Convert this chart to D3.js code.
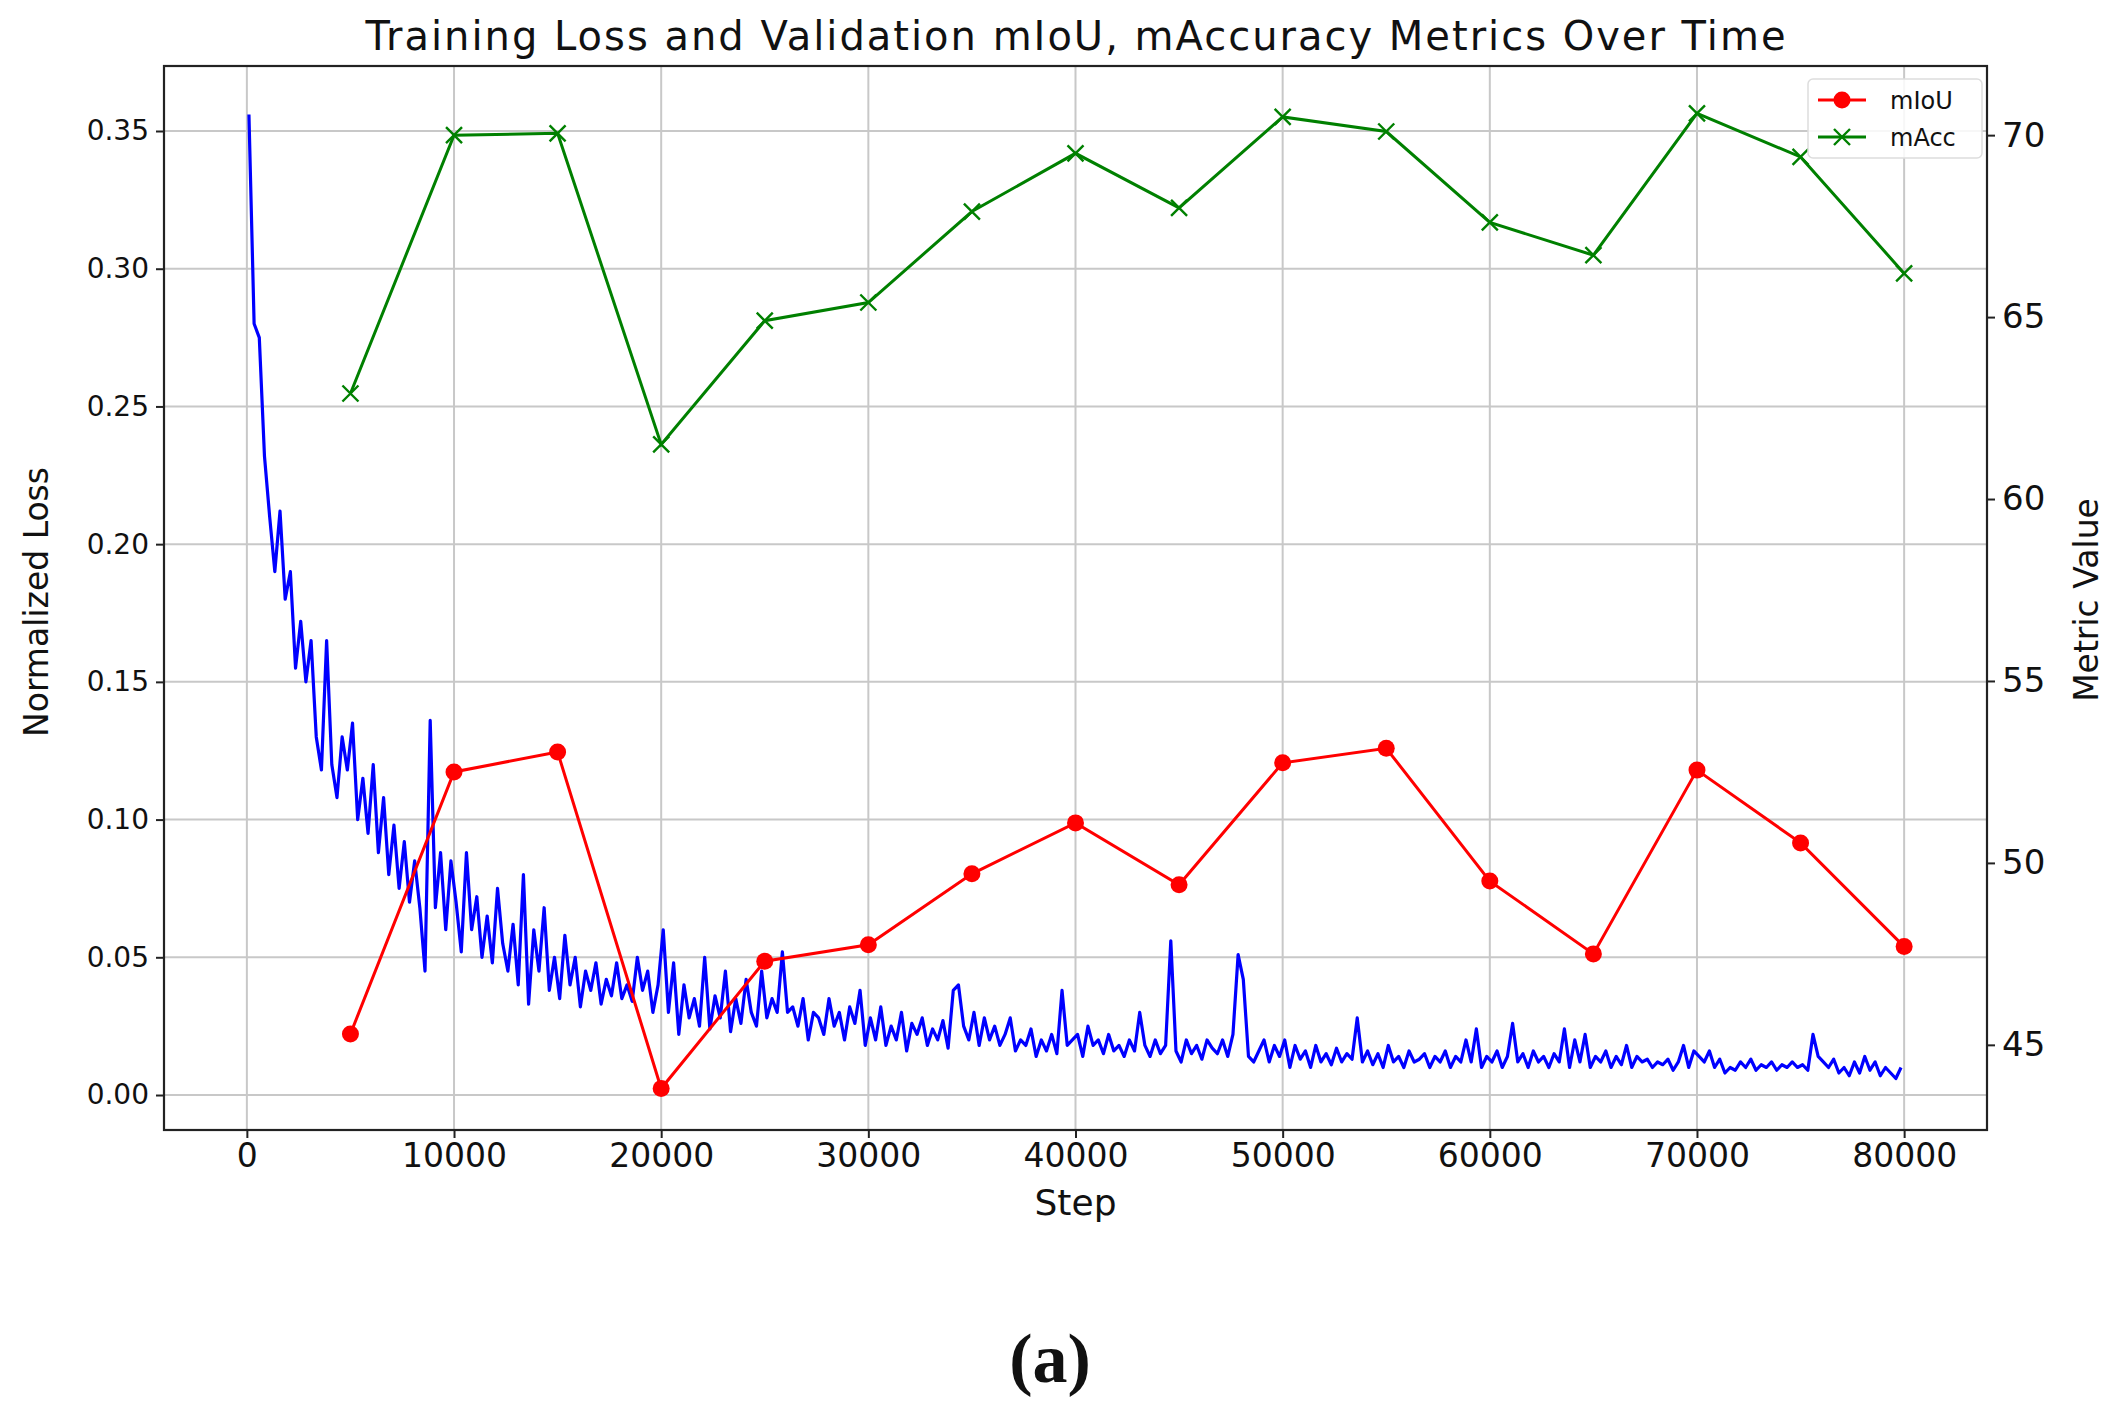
<!DOCTYPE html>
<html><head><meta charset="utf-8">
<script src="https://cdn.jsdelivr.net/npm/d3@7"></script>
<style>body{margin:0;background:#fff}</style>
</head><body><svg id="c" width="2122" height="1405" font-family="DejaVu Sans"></svg>
<script>
const evalSteps=[5000,10000,15000,20000,25000,30000,35000,40000,45000,50000,55000,60000,65000,70000,75000,80000];
const mIoU=[45.3,52.5,53.05,43.8,47.3,47.75,49.7,51.1,49.4,52.75,53.15,49.5,47.5,52.55,50.55,47.7];
const mAcc=[62.9,70.0,70.05,61.5,64.9,65.4,67.9,69.5,68.0,70.5,70.1,67.6,66.7,70.6,69.4,66.2];
const lossStart=100, lossInterval=250;
const loss=[
0.356,0.28,0.275,0.232,0.21,0.19,0.212,0.18,0.19,0.155,0.172,0.15,0.165,0.13,0.118,0.165,0.12,0.108,0.13,0.118,0.135,0.10,0.115,0.095,0.12,0.088,0.108,0.08,0.098,0.075,0.092,0.07,0.085,0.068,0.045,0.136,0.068,0.088,0.06,0.085,
0.07,0.052,0.088,0.06,0.072,0.05,0.065,0.048,0.075,0.055,0.045,0.062,0.04,0.08,0.033,0.06,0.045,0.068,0.038,0.05,0.035,0.058,0.04,0.05,0.032,0.045,0.038,0.048,0.033,0.042,0.036,0.048,0.035,0.04,0.034,0.05,0.038,0.045,0.03,0.04,
0.06,0.03,0.048,0.022,0.04,0.028,0.035,0.025,0.05,0.024,0.036,0.028,0.045,0.023,0.035,0.026,0.042,0.03,0.025,0.045,0.028,0.035,0.03,0.052,0.03,0.032,0.025,0.035,0.02,0.03,0.028,0.022,0.035,0.025,0.03,0.02,0.032,0.026,0.038,0.018,
0.028,0.02,0.032,0.018,0.025,0.02,0.03,0.016,0.026,0.022,0.028,0.018,0.024,0.02,0.027,0.017,0.038,0.04,0.025,0.02,0.03,0.018,0.028,0.02,0.025,0.018,0.022,0.028,0.016,0.02,0.018,0.024,0.014,0.02,0.016,0.022,0.015,0.038,0.018,0.02,
0.022,0.014,0.025,0.018,0.02,0.015,0.022,0.016,0.018,0.014,0.02,0.016,0.03,0.018,0.014,0.02,0.015,0.018,0.056,0.016,0.012,0.02,0.015,0.018,0.013,0.02,0.017,0.015,0.02,0.014,0.022,0.051,0.042,0.014,0.012,0.016,0.02,0.012,0.018,0.014,
0.02,0.01,0.018,0.013,0.016,0.01,0.018,0.012,0.015,0.011,0.017,0.012,0.015,0.013,0.028,0.012,0.016,0.011,0.015,0.01,0.018,0.012,0.014,0.01,0.016,0.012,0.013,0.015,0.01,0.014,0.012,0.016,0.01,0.014,0.012,0.02,0.012,0.024,0.01,0.014,
0.012,0.016,0.01,0.014,0.026,0.012,0.015,0.01,0.016,0.012,0.014,0.01,0.015,0.012,0.024,0.01,0.02,0.012,0.022,0.01,0.014,0.012,0.016,0.01,0.014,0.011,0.018,0.01,0.014,0.012,0.013,0.01,0.012,0.011,0.013,0.009,0.012,0.018,0.01,0.016,
0.014,0.012,0.016,0.01,0.013,0.008,0.01,0.009,0.012,0.01,0.013,0.009,0.011,0.01,0.012,0.009,0.011,0.01,0.012,0.01,0.011,0.009,0.022,0.014,0.012,0.01,0.013,0.008,0.01,0.007,0.012,0.008,0.014,0.009,0.012,0.007,0.01,0.008,0.006,0.01];
const xTicks=[0,10000,20000,30000,40000,50000,60000,70000,80000];
const yLeftTicks=[0,0.05,0.10,0.15,0.20,0.25,0.30,0.35];
const yRightTicks=[45,50,55,60,65,70];

const L=164,R=1987,T=66,B=1130;
const svg=d3.select("#c");
const x=d3.scaleLinear().domain([-4000,84000]).range([L,R]);
const yL=d3.scaleLinear().domain([-0.0127,0.3736]).range([B,T]);
const yR=d3.scaleLinear().domain([42.66,71.9]).range([B,T]);
const grid="#c8c8c8";
svg.append("g").selectAll("line").data(xTicks).join("line").attr("x1",d=>x(d)).attr("x2",d=>x(d)).attr("y1",T).attr("y2",B).attr("stroke",grid).attr("stroke-width",2);
svg.append("g").selectAll("line").data(yLeftTicks).join("line").attr("y1",d=>yL(d)).attr("y2",d=>yL(d)).attr("x1",L).attr("x2",R).attr("stroke",grid).attr("stroke-width",2);

const lossData=loss.map((v,i)=>[lossStart+i*lossInterval,v]);
svg.append("path").datum(lossData).attr("fill","none").attr("stroke","#0000ff").attr("stroke-width",3.2).attr("stroke-linejoin","round")
 .attr("d",d3.line().x(d=>x(d[0])).y(d=>yL(d[1])));
const mi=evalSteps.map((s,i)=>[s,mIoU[i]]), ma=evalSteps.map((s,i)=>[s,mAcc[i]]);
const lr=d3.line().x(d=>x(d[0])).y(d=>yR(d[1]));
svg.append("path").datum(mi).attr("fill","none").attr("stroke","#ff0000").attr("stroke-width",3).attr("d",lr);
svg.append("g").selectAll("circle").data(mi).join("circle").attr("cx",d=>x(d[0])).attr("cy",d=>yR(d[1])).attr("r",8.5).attr("fill","#ff0000");
svg.append("path").datum(ma).attr("fill","none").attr("stroke","#008000").attr("stroke-width",3).attr("d",lr);
const xm=(g,cx,cy)=>g.append("path").attr("d",`M${cx-8},${cy-8}L${cx+8},${cy+8}M${cx-8},${cy+8}L${cx+8},${cy-8}`).attr("stroke","#008000").attr("stroke-width",2.4);
const gm=svg.append("g"); ma.forEach(d=>xm(gm,x(d[0]),yR(d[1])));

svg.append("rect").attr("x",L).attr("y",T).attr("width",R-L).attr("height",B-T).attr("fill","none").attr("stroke","#222").attr("stroke-width",2.2);
const ax=svg.append("g").attr("transform",`translate(0,${B})`).call(d3.axisBottom(x).tickValues(xTicks).tickFormat(d3.format("d")).tickSize(8).tickPadding(6));
const ayl=svg.append("g").attr("transform",`translate(${L},0)`).call(d3.axisLeft(yL).tickValues(yLeftTicks).tickFormat(d3.format(".2f")).tickSize(8).tickPadding(7));
const ayr=svg.append("g").attr("transform",`translate(${R},0)`).call(d3.axisRight(yR).tickValues(yRightTicks).tickSize(8).tickPadding(7));
[ax,ayl,ayr].forEach(a=>{a.select(".domain").remove();a.selectAll("line").attr("stroke","#222").attr("stroke-width",2);a.selectAll("text").attr("fill","#111").attr("font-family","DejaVu Sans");});
ayl.selectAll("text").attr("font-size",28);
ax.selectAll("text").attr("font-size",33);
ayr.selectAll("text").attr("font-size",34);

svg.append("text").attr("x",(L+R)/2).attr("y",50).attr("text-anchor","middle").attr("font-size",40).attr("fill","#111").attr("textLength",1420).text("Training Loss and Validation mIoU, mAccuracy Metrics Over Time");
svg.append("text").attr("x",(L+R)/2).attr("y",1215).attr("text-anchor","middle").attr("font-size",36).attr("fill","#111").text("Step");
svg.append("text").attr("transform",`translate(48,${602}) rotate(-90)`).attr("text-anchor","middle").attr("font-size",33).attr("fill","#111").text("Normalized Loss");
svg.append("text").attr("transform",`translate(2098,600) rotate(-90)`).attr("text-anchor","middle").attr("font-size",33).attr("fill","#111").text("Metric Value");
svg.append("text").attr("x",1050).attr("y",1382).attr("text-anchor","middle").attr("font-size",70).attr("font-family","Liberation Serif").attr("font-weight","bold").attr("fill","#111").text("(a)");

const lg=svg.append("g");
lg.append("rect").attr("x",1808).attr("y",79).attr("width",174).attr("height",79).attr("rx",5).attr("fill","#fff").attr("fill-opacity",0.85).attr("stroke","#ddd").attr("stroke-width",1.5);
lg.append("line").attr("x1",1818).attr("x2",1866).attr("y1",100).attr("y2",100).attr("stroke","#ff0000").attr("stroke-width",3);
lg.append("circle").attr("cx",1842).attr("cy",100).attr("r",8.5).attr("fill","#ff0000");
lg.append("line").attr("x1",1818).attr("x2",1866).attr("y1",137).attr("y2",137).attr("stroke","#008000").attr("stroke-width",3);
xm(lg,1842,137);
lg.append("text").attr("x",1890).attr("y",109).attr("font-size",24).attr("fill","#111").text("mIoU");
lg.append("text").attr("x",1890).attr("y",146).attr("font-size",24).attr("fill","#111").text("mAcc");
</script></body></html>
